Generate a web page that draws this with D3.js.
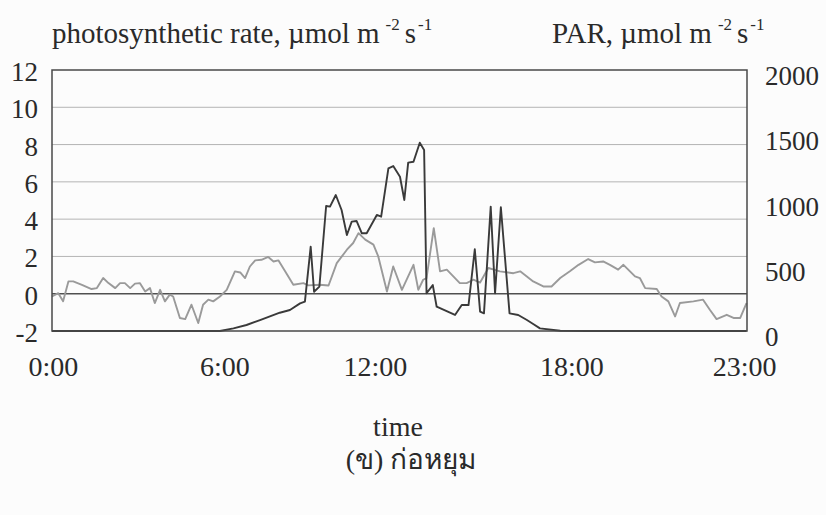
<!DOCTYPE html>
<html>
<head>
<meta charset="utf-8">
<script src="https://cdn.jsdelivr.net/npm/d3@7"></script>
<style>
  html, body { margin: 0; padding: 0; background: #fcfcfc; }
  svg { display: block; font-family: "Liberation Serif", "Times New Roman", serif; }
</style>
</head>
<body>
<svg id="chart" width="826" height="515"></svg>
<script>
// Photosynthetic rate (left axis, µmol m-2 s-1)
const rateTimes = ["0:00","0:13","0:23","0:34","0:44","1:02","1:22","1:33","1:46","1:57",
  "2:11","2:21","2:31","2:42","2:52","3:02","3:13","3:23","3:33","3:44",
  "3:54","4:04","4:11","4:25","4:36","4:49","5:03","5:13","5:24","5:34",
  "5:48","6:02","6:19","6:30","6:40","6:50","7:01","7:14","7:28","7:39",
  "7:49","8:03","8:20","8:41","8:51","9:15","9:33","9:50","10:11","10:24",
  "10:35","10:49","11:06","11:16","11:34","11:47","12:05","12:29","12:39","12:49",
  "12:56","13:11","13:24","13:38","14:05","14:19","14:33","14:47","15:04","15:28",
  "15:56","16:10","16:37","16:58","17:15","17:33","17:53","18:11","18:31","18:45",
  "19:02","19:16","19:33","19:44","20:08","20:18","20:29","20:53","21:03","21:17",
  "21:31","21:41","22:09","22:29","22:43","22:57","23:18","23:32","23:46","23:59"];
const rateValues = [-0.15,0.03,-0.4,0.66,0.66,0.48,0.25,0.3,0.84,0.57,
  0.3,0.57,0.57,0.3,0.54,0.57,0.12,0.3,-0.5,0.21,
  -0.41,-0.05,-0.15,-1.3,-1.36,-0.59,-1.57,-0.59,-0.32,-0.41,
  -0.15,0.21,1.2,1.14,0.84,1.46,1.79,1.82,1.97,1.73,
  1.79,1.2,0.48,0.57,0.45,0.48,0.44,1.64,2.36,2.72,
  3.25,2.9,2.63,2.0,0.12,1.46,0.21,1.55,0.21,0.75,
  0.84,3.52,1.2,1.29,0.57,0.57,0.75,0.6,1.38,1.2,
  1.1,1.2,0.66,0.39,0.39,0.84,1.2,1.55,1.86,1.68,
  1.73,1.55,1.29,1.55,0.93,0.84,0.3,0.25,-0.15,-0.41,
  -1.22,-0.5,-0.41,-0.32,-0.86,-1.36,-1.13,-1.3,-1.3,-0.5];

// PAR (right axis, µmol m-2 s-1)
const parTimes = ["0:00","5:48","6:16","6:43","7:11","7:52","8:13","8:34","8:44","8:56",
  "9:03","9:14","9:28","9:36","9:48","10:00","10:11","10:21","10:31","10:42",
  "10:52","11:13","11:22","11:37","11:47","12:01","12:10","12:18","12:29","12:42",
  "12:51","12:56","13:09","13:17","13:55","14:09","14:23","14:36","14:47","14:55",
  "15:09","15:18","15:30","15:48","16:06","16:24","16:37","16:51","17:33","18:28","23:59"];
const parValues = [0,0,20,46,84,140,161,212,225,646,
  301,340,958,953,1042,927,736,838,843,749,
  749,889,876,1247,1264,1182,1004,1290,1297,1443,
  1387,289,352,186,123,199,199,626,148,135,
  953,289,948,135,123,84,54,20,2,0,0];

const rateTicks = [-2, 0, 2, 4, 6, 8, 10, 12];
const parTicks = [0, 500, 1000, 1500, 2000];
const timeLabels = ["0:00", "6:00", "12:00", "18:00", "23:00"];
const timeLabelAt = ["0:03", "5:58", "11:10", "17:57", "23:55"];

const toMinutes = s => { const [h, m] = s.split(":").map(Number); return h * 60 + m; };

const svg = d3.select("#chart");
const W = 826, H = 515;
const margin = { top: 70, right: 79, bottom: 184, left: 52 };
const x0 = margin.left, x1 = W - margin.right;
const y0 = H - margin.bottom, y1 = margin.top;

const x = d3.scaleLinear().domain([0, 1440]).range([x0, x1]);
const yRate = d3.scaleLinear().domain([-2, 12]).range([y0, y1]);
const yPar = d3.scaleLinear().domain([0, 2000]).range([y0, y1]);

// horizontal gridlines on the left-axis ticks
svg.append("g").selectAll("line")
  .data(rateTicks.filter(t => t !== 0 && t !== -2 && t !== 12))
  .join("line")
  .attr("x1", x0).attr("x2", x1)
  .attr("y1", d => yRate(d)).attr("y2", d => yRate(d))
  .attr("stroke", "#b4b4b4").attr("stroke-width", 1);

// zero line of the rate axis
svg.append("line")
  .attr("x1", x0).attr("x2", x1)
  .attr("y1", yRate(0)).attr("y2", yRate(0))
  .attr("stroke", "#505050").attr("stroke-width", 1.4);

const rateData = rateTimes.map((t, i) => ({ t: toMinutes(t), v: rateValues[i] }));
const parData = parTimes.map((t, i) => ({ t: toMinutes(t), v: parValues[i] }));

svg.append("path")
  .datum(rateData)
  .attr("fill", "none")
  .attr("stroke", "#9a9a9a")
  .attr("stroke-width", 1.9)
  .attr("stroke-linejoin", "round")
  .attr("d", d3.line().x(d => x(d.t)).y(d => yRate(d.v)));

svg.append("path")
  .datum(parData)
  .attr("fill", "none")
  .attr("stroke", "#3a3a3a")
  .attr("stroke-width", 1.9)
  .attr("stroke-linejoin", "round")
  .attr("d", d3.line().x(d => x(d.t)).y(d => yPar(d.v)));

// plot frame
svg.append("rect")
  .attr("x", x0).attr("y", y1)
  .attr("width", x1 - x0).attr("height", y0 - y1)
  .attr("fill", "none").attr("stroke", "#484848").attr("stroke-width", 1.5);

const txt = "#2a2a2a";

// left axis labels
svg.append("g").selectAll("text")
  .data(rateTicks).join("text")
  .attr("x", 38).attr("y", d => yRate(d) + 11)
  .attr("text-anchor", "end")
  .attr("font-size", 27).attr("fill", txt)
  .text(d => d);

// right axis labels
svg.append("g").selectAll("text")
  .data(parTicks).join("text")
  .attr("x", 765).attr("y", d => yPar(d) + 15)
  .attr("text-anchor", "start")
  .attr("font-size", 27).attr("fill", txt)
  .text(d => d);

// time labels
svg.append("g").selectAll("text")
  .data(timeLabels).join("text")
  .attr("x", (d, i) => x(toMinutes(timeLabelAt[i])))
  .attr("y", 376)
  .attr("text-anchor", "middle")
  .attr("font-size", 28).attr("fill", txt)
  .text(d => d);

// axis titles with superscript units
function unitTitle(xPos, main, size) {
  const t = svg.append("text").attr("x", xPos).attr("y", 43)
    .attr("font-size", size).attr("fill", txt);
  t.append("tspan").text(main);
  t.append("tspan").attr("dx", 6).attr("dy", -13).attr("font-size", 17).text("-2");
  t.append("tspan").attr("dx", 5).attr("dy", 13).attr("font-size", size).text("s");
  t.append("tspan").attr("dx", 2).attr("dy", -13).attr("font-size", 17).text("-1");
}
unitTitle(52, "photosynthetic rate, µmol m", 29);
unitTitle(552, "PAR, µmol m", 29);

svg.append("text")
  .attr("x", 398).attr("y", 436)
  .attr("text-anchor", "middle")
  .attr("font-size", 28).attr("fill", txt)
  .text("time");

svg.append("text")
  .attr("x", 411).attr("y", 469)
  .attr("text-anchor", "middle")
  .attr("font-size", 28).attr("fill", txt)
  .text("(ข) ก่อหยุม");
</script>
</body>
</html>
